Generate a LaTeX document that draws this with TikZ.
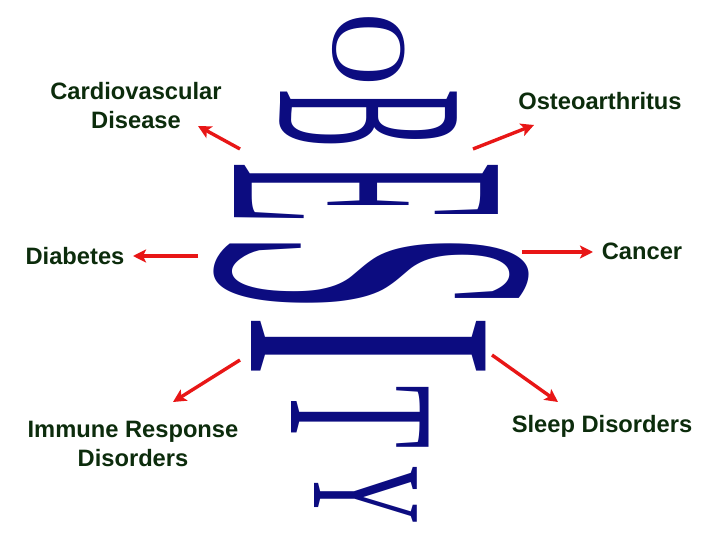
\documentclass[tikz,border=0pt]{standalone}
\usepackage{fontspec}
\newfontfamily\labfont{Liberation Sans}
\newfontfamily\letfont{Liberation Serif}
\usetikzlibrary{arrows.meta}
\definecolor{navy}{RGB}{12,12,128}
\definecolor{labgreen}{RGB}{12,44,12}
\definecolor{arrred}{RGB}{232,22,22}
\begin{document}
\begin{tikzpicture}[x=1pt,y=1pt,
  lab/.style={font=\labfont\bfseries\fontsize{23.7}{29}\selectfont, text=labgreen, inner sep=0pt, align=center},
  letter/.style={font=\letfont\fontsize{100}{100}\selectfont, text=navy, inner sep=0pt, rotate=-90},
  arr/.style={draw=arrred, line width=3.4pt, -{Stealth[length=13pt,width=13pt,inset=3pt]}}]
\fill[white] (0,0) rectangle (720,540);
\useasboundingbox (0,0) rectangle (720,540);
% OBESITY letters
\node[letter] (O) at (369,490) {\scalebox{1.0}[1.08]{O}};
\node[letter] (B) at (368.5,421) {\scalebox{0.88}[2.70]{B}};
\node[letter] (E) at (366,347) {\scalebox{1.0}[4.03]{E}};
\node[letter] (S) at (371.5,267) {\scalebox{1.39}[4.69]{S}};
\node[letter] (I) at (368.5,193.5) {\scalebox{1.90}[3.58]{I}};
\node[letter] (T) at (360.5,123) {\scalebox{1.04}[2.10]{T}};
\node[letter] (Y) at (366,45) {\scalebox{0.80}[1.57]{Y}};
% labels
\node[lab] (cardio) at (136,434) {Cardiovascular\\Disease};
\node[lab, anchor=base] (osteo) at (600,430) {Osteoarthritus};
\node[lab, anchor=base] (diab) at (75,275) {Diabetes};
\node[lab, anchor=base] (canc) at (642,280) {Cancer};
\node[lab] (immune) at (133,96.5) {Immune Response\\Disorders};
\node[lab, anchor=base] (sleep) at (602,107) {Sleep Disorders};
% arrow ends
\coordinate (t1) at (240,391); \coordinate (h1) at (198,414);
\coordinate (t2) at (473,391); \coordinate (h2) at (534,415);
\coordinate (t3) at (198,284); \coordinate (h3) at (133,284);
\coordinate (t4) at (522,288); \coordinate (h4) at (593,288);
\coordinate (t5) at (240,180); \coordinate (h5) at (173,138);
\coordinate (t6) at (492,185); \coordinate (h6) at (558,138);
\draw[arr] (t1) -- (h1);
\draw[arr] (t2) -- (h2);
\draw[arr] (t3) -- (h3);
\draw[arr] (t4) -- (h4);
\draw[arr] (t5) -- (h5);
\draw[arr] (t6) -- (h6);
\end{tikzpicture}
\end{document}
